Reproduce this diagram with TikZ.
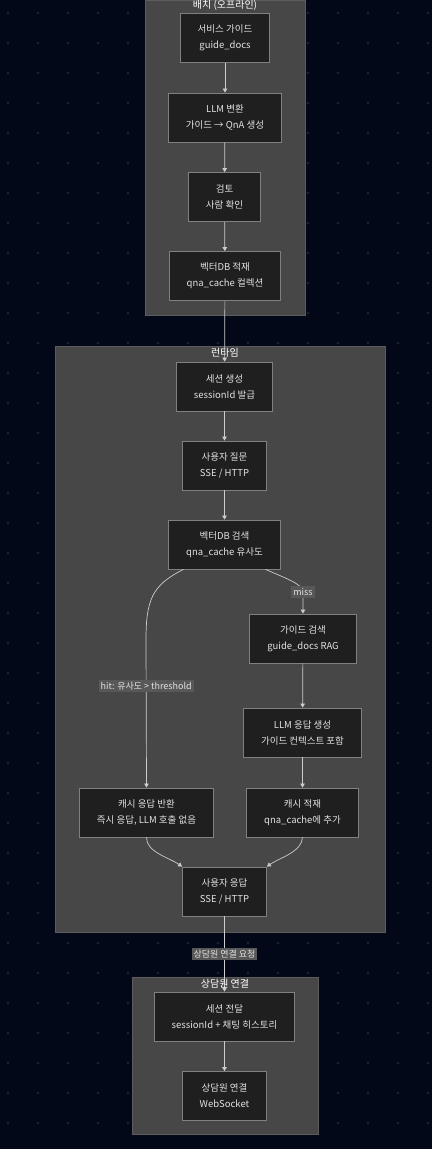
\documentclass[tikz,border=0pt]{standalone}
\usepackage{fontspec}
\setmainfont{Noto Sans CJK KR}
\definecolor{bgnavy}{RGB}{2, 8, 23}
\definecolor{griddot}{RGB}{28, 36, 50}
\definecolor{groupfill}{RGB}{71, 71, 71}
\definecolor{groupline}{RGB}{92, 92, 92}
\definecolor{boxfill}{RGB}{31, 31, 31}
\definecolor{boxline}{RGB}{128, 128, 128}
\definecolor{inklight}{RGB}{226, 226, 226}
\definecolor{edgegrey}{RGB}{205, 205, 205}
\definecolor{tagfill}{RGB}{88, 88, 88}
\usetikzlibrary{arrows.meta, positioning, calc}

\begin{document}
\begin{tikzpicture}[
  x=1pt, y=-1pt,
  flowbox/.style={draw=boxline, fill=boxfill, line width=0.8pt, text=inklight, align=center, inner xsep=17.5pt, minimum height=49pt, font=\fontsize{9.5}{16}\selectfont},
  groupbox/.style={draw=groupline, fill=groupfill, line width=0.8pt},
  grouptitle/.style={text=white, font=\fontsize{10}{11}\selectfont, inner sep=1pt},
  flow/.style={draw=edgegrey, line width=0.7pt, -{Triangle[length=4pt, width=4.5pt]}},
  edgetag/.style={fill=tagfill, text=inklight, font=\fontsize{9}{10}\selectfont, inner sep=2pt}
]
  \useasboundingbox (0,0) rectangle (432,1149);
  \fill[bgnavy] (0,0) rectangle (432,1149);
  \foreach \gx in {8,38,...,428} {
    \foreach \gy in {13,43,...,1123} {
      \fill[griddot] (\gx,\gy) circle (1.3pt);
    }
  }

  \draw[groupbox] (145,0) rectangle (305,315);
  \draw[groupbox] (55,346) rectangle (385,932);
  \draw[groupbox] (132,977) rectangle (318,1134);

  \node[flowbox] (guidedocs) at (225,38) {서비스 가이드\\guide\_docs};
  \node[flowbox] (convert) at (225,117.5) {LLM 변환\\가이드 → QnA 생성};
  \node[flowbox] (review) at (224.5,197) {검토\\사람 확인};
  \node[flowbox] (persist) at (225,276) {벡터DB 적재\\qna\_cache 컬렉션};

  \node[flowbox] (session) at (224.5,386.5) {세션 생성\\sessionId 발급};
  \node[flowbox] (question) at (224.5,465.5) {사용자 질문\\SSE / HTTP};
  \node[flowbox] (search) at (224.5,544.5) {벡터DB 검색\\qna\_cache 유사도};
  \node[flowbox] (guide) at (303,638.5) {가이드 검색\\guide\_docs RAG};
  \node[flowbox] (llmreply) at (302.5,732.5) {LLM 응답 생성\\가이드 컨텍스트 포함};
  \node[flowbox] (cachestore) at (302.5,812.5) {캐시 적재\\qna\_cache에 추가};
  \node[flowbox] (cachehit) at (146.5,812.5) {캐시 응답 반환\\즉시 응답, LLM 호출 없음};
  \node[flowbox] (reply) at (224.5,891.5) {사용자 응답\\SSE / HTTP};

  \node[flowbox] (handoff) at (224.5,1016.5) {세션 전달\\sessionId + 채팅 히스토리};
  \node[flowbox] (agent) at (224.5,1096) {상담원 연결\\WebSocket};

  \draw[flow] (guidedocs) -- (convert);
  \draw[flow] (convert) -- (review);
  \draw[flow] (review) -- (persist);
  \draw[flow] (persist) -- (session);
  \draw[flow] (session) -- (question);
  \draw[flow] (question) -- (search);
  \draw[flow] ([xshift=-41pt]search.south) .. controls (152,585) and (146,600) .. (146,640) -- node[edgetag, pos=0.31] {hit: 유사도 > threshold} (cachehit.north);
  \draw[flow] ([xshift=41pt]search.south) .. controls (285,578) and (303,584) .. (303,592) node[edgetag] {miss} -- (guide.north);
  \draw[flow] (guide) -- (llmreply);
  \draw[flow] (llmreply) -- (cachestore);
  \draw[flow] (cachehit.south) .. controls (146,852) and (170,858) .. (reply.north west);
  \draw[flow] (cachestore.south) .. controls (302,852) and (279,858) .. (reply.north east);
  \draw[flow] (reply) -- node[edgetag] {상담원 연결 요청} (handoff);
  \draw[flow] (handoff) -- (agent);

  \node[grouptitle, anchor=north] (batchtitle) at (225,-1) {배치 (오프라인)};
  \node[grouptitle] (runtitle) at (225,353) {런타임};
  \node[grouptitle] (agenttitle) at (225,984) {상담원 연결};
\end{tikzpicture}
\end{document}
